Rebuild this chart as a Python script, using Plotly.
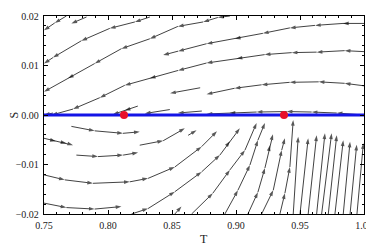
import plotly.graph_objects as go

# ---- streamlines above S=0 (listed in flow direction: right -> left) ----
u1_T = [0.7675, 0.7584, 0.75]
u1_S = [0.0200, 0.0186, 0.0171]
u2_T = [0.7832, 0.7714]
u2_S = [0.0198, 0.0185]
u3_T = [0.8327, 0.8210, 0.8014, 0.7792, 0.7570, 0.75]
u3_S = [0.0198, 0.0188, 0.0175, 0.0150, 0.0116, 0.0104]
u4_T = [0.8952, 0.8858, 0.8744, 0.8546, 0.8327, 0.8105, 0.7896, 0.7688, 0.75]
u4_S = [0.0200, 0.0197, 0.0188, 0.0179, 0.0154, 0.0134, 0.0104, 0.0074, 0.0047]
u5_T = [1.0, 0.9836, 0.9617, 0.9421, 0.9210, 0.8991, 0.8770, 0.8548, 0.8431]
u5_S = [0.0185, 0.0185, 0.0181, 0.0176, 0.0165, 0.0154, 0.0144, 0.0129, 0.0121]
u6_T = [1.0, 0.9849, 0.9630, 0.9435, 0.9224, 0.9005, 0.8770, 0.8548, 0.8327, 0.8131, 0.7936, 0.7727, 0.7560]
u6_S = [0.0128, 0.0130, 0.0127, 0.0126, 0.0122, 0.0114, 0.0105, 0.0090, 0.0074, 0.0060, 0.0035, 0.0012, 0.0000]
u7_T = [0.8720, 0.8485]
u7_S = [0.0055, 0.0044]
u8_T = [1.0, 0.9849, 0.9646, 0.9419, 0.9200, 0.8989, 0.8770]
u8_S = [0.0059, 0.0064, 0.0067, 0.0066, 0.0061, 0.0054, 0.0042]
u9_T = [0.8233, 0.8131, 0.8037]
u9_S = [0.0018, 0.0009, 0.0001]
u10_T = [0.8483, 0.8288]
u10_S = [0.0011, 0.0003]
u11_T = [0.8733, 0.8546]
u11_S = [0.0008, 0.0004]
u12_T = [1.0, 0.9787, 0.9591, 0.9396, 0.9161, 0.8950, 0.8770]
u12_S = [0.0000, 0.0004, 0.0006, 0.0007, 0.0006, 0.0004, 0.0002]
u13_T = [0.7570, 0.75]
u13_S = [0.0004, 0.0000]

# ---- streamlines below S=0 (flow direction: left -> right / upward) ----
l1_T = [0.7714, 0.7896, 0.8117, 0.8248]
l1_S = [-0.0023, -0.0032, -0.0037, -0.0034]
l2_T = [0.75, 0.7592, 0.7675, 0.7727]
l2_S = [-0.0047, -0.0053, -0.0057, -0.0061]
l3_T = [0.7753, 0.7922, 0.8118, 0.8235]
l3_S = [-0.0081, -0.0084, -0.0081, -0.0076]
l4_T = [0.8248, 0.8431, 0.8600]
l4_S = [-0.0061, -0.0052, -0.0027]
l5_T = [0.8626, 0.8692]
l5_S = [-0.0041, -0.0031]
l6_T = [0.75, 0.7662, 0.7883, 0.8170, 0.8313, 0.8522, 0.8731, 0.8851]
l6_S = [-0.0121, -0.0131, -0.0138, -0.0135, -0.0128, -0.0105, -0.0064, -0.0033]
l7_T = [0.75, 0.7675, 0.7896, 0.8105]
l7_S = [-0.0178, -0.0187, -0.0190, -0.0185]
l8_T = [0.8184, 0.8313, 0.8522, 0.8731, 0.8874, 0.8952, 0.9030]
l8_S = [-0.0200, -0.0189, -0.0155, -0.0115, -0.0081, -0.0053, -0.0027]
l9_T = [0.8522, 0.8574]
l9_S = [-0.0200, -0.0185]
l10_T = [0.8653, 0.8819, 0.8952, 0.9070, 0.9161]
l10_S = [-0.0200, -0.0158, -0.0111, -0.0071, -0.0016]
l11_T = [0.8913, 0.9015, 0.9109, 0.9171, 0.9226]
l11_S = [-0.0200, -0.0152, -0.0101, -0.0051, -0.0016]
l12_T = [0.9093, 0.9171, 0.9226, 0.9265, 0.9289]
l12_S = [-0.0200, -0.0156, -0.0107, -0.0061, -0.0039]
l13_T = [0.9200, 0.9291, 0.9357, 0.9382]
l13_S = [-0.0200, -0.0152, -0.0071, -0.0047]
l14_T = [0.9343, 0.9382, 0.9421, 0.9447]
l14_S = [-0.0200, -0.0158, -0.0105, -0.0010]

# ---- near-vertical fan of streamlines at the lower right (bottom -> top) ----
fan_bottom_T = [0.9447, 0.9500, 0.9564, 0.9630, 0.9669, 0.9721, 0.9773, 0.9838, 0.9891, 0.9945]
fan_top_T = [0.9486, 0.9564, 0.9630, 0.9695, 0.9747, 0.9787, 0.9838, 0.9891, 0.9943, 0.9995]
fan_top_S = [-0.0044, -0.0047, -0.0041, -0.0037, -0.0037, -0.0041, -0.0051, -0.0054, -0.0060, -0.0057]

# ---- equilibrium line and fixed points ----
line_T = [0.75, 1.0]
line_S = [0.0, 0.0]
fixed_T = [0.8125, 0.9375]
fixed_S = [0.0, 0.0]

x_ticks = [0.75, 0.80, 0.85, 0.90, 0.95, 1.00]
y_ticks = [-0.02, -0.01, 0.0, 0.01, 0.02]

streams = [
    (u1_T, u1_S), (u2_T, u2_S), (u3_T, u3_S), (u4_T, u4_S), (u5_T, u5_S),
    (u6_T, u6_S), (u7_T, u7_S), (u8_T, u8_S), (u9_T, u9_S), (u10_T, u10_S),
    (u11_T, u11_S), (u12_T, u12_S), (u13_T, u13_S),
    (l1_T, l1_S), (l2_T, l2_S), (l3_T, l3_S), (l4_T, l4_S), (l5_T, l5_S),
    (l6_T, l6_S), (l7_T, l7_S), (l8_T, l8_S), (l9_T, l9_S), (l10_T, l10_S),
    (l11_T, l11_S), (l12_T, l12_S), (l13_T, l13_S), (l14_T, l14_S),
]
y_bottom = y_ticks[0]
for bT, tT, tS in zip(fan_bottom_T, fan_top_T, fan_top_S):
    streams.append(([bT, tT], [y_bottom, tS]))

fig = go.Figure()
for T, S in streams:
    sizes = [0] + [6] * (len(T) - 1)
    fig.add_trace(go.Scatter(
        x=T, y=S, mode="lines+markers",
        line=dict(color="#111111", width=0.8),
        marker=dict(symbol="arrow", size=sizes, color="#111111",
                    angleref="previous", line=dict(width=0)),
        hoverinfo="skip", showlegend=False,
    ))

fig.add_trace(go.Scatter(x=line_T, y=line_S, mode="lines",
                         line=dict(color="#1414e6", width=3),
                         showlegend=False, hoverinfo="skip"))
fig.add_trace(go.Scatter(x=fixed_T, y=fixed_S, mode="markers",
                         marker=dict(color="#e8102a", size=8, line=dict(width=0)),
                         showlegend=False, hoverinfo="skip"))

axis_common = dict(
    showline=True, linecolor="black", linewidth=1.3, mirror="allticks",
    ticks="inside", ticklen=4, tickwidth=1, tickcolor="black",
    showgrid=False, zeroline=False, automargin=False,
    tickfont=dict(family="Liberation Serif", size=10, color="#222"),
)
fig.update_xaxes(range=[0.75, 1.0], tickvals=x_ticks, tickformat=".2f",
                 minor=dict(dtick=0.01, ticks="inside", ticklen=2, tickcolor="black", tickwidth=1),
                 ticklabelstandoff=2,
                 **axis_common)
fig.update_yaxes(range=[-0.02, 0.02], tickvals=y_ticks, tickformat=".2f",
                 minor=dict(dtick=0.002, ticks="inside", ticklen=2, tickcolor="black", tickwidth=1),
                 ticklabelstandoff=2,
                 **axis_common)
# the page body adds an 8px offset, so the figure is sized to the remaining area
fig.update_layout(
    width=366, height=239,
    margin=dict(l=36, r=10, t=8, b=33, autoexpand=False),
    paper_bgcolor="white", plot_bgcolor="white",
    annotations=[
        dict(text="T", xref="paper", yref="paper", x=0.5, y=-0.125,
             showarrow=False, xanchor="center", yanchor="middle",
             font=dict(family="Liberation Serif", size=12, color="#222")),
        dict(text="S", xref="paper", yref="paper", x=-0.095, y=0.5,
             showarrow=False, xanchor="center", yanchor="middle", textangle=-90,
             font=dict(family="Liberation Serif", size=12, color="#222")),
    ],
)
fig.write_html("out.html")
